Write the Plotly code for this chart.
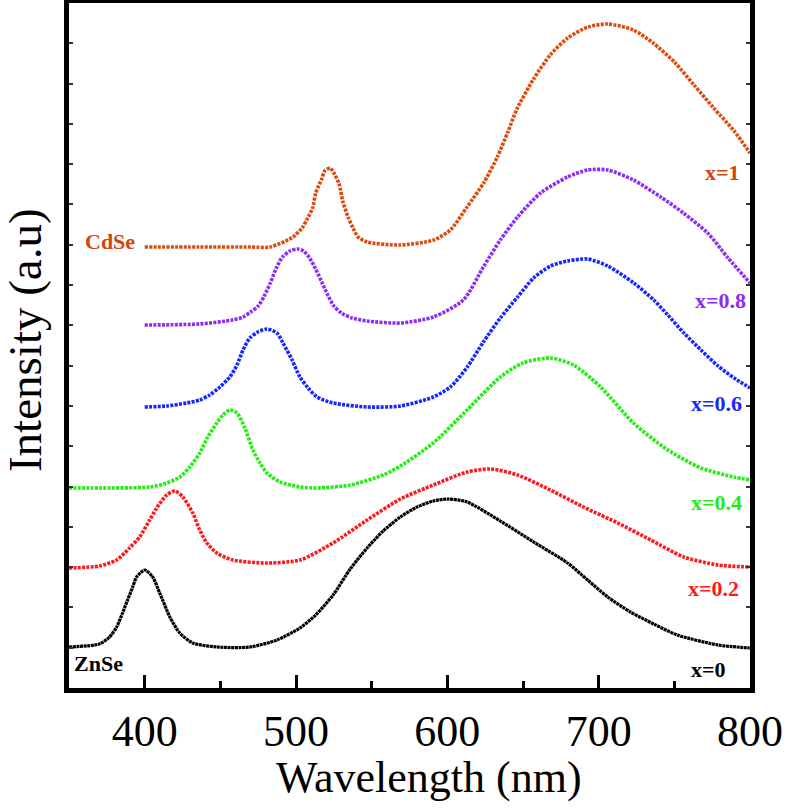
import plotly.graph_objects as go

# wavelength (nm) / intensity (a.u., stacked offsets as drawn)
wl_cdse = [400, 436, 470, 483, 498, 504, 507, 511, 513, 517, 519, 522.5, 525, 528.5, 531, 534.4, 537.7, 541, 547,
           569, 591, 602, 613, 624, 633, 640, 646, 657, 668, 679.5, 693, 706, 723, 736, 750, 763, 776, 789.5, 800]
in_cdse = [441, 441, 441, 441, 451, 460, 468, 480, 495, 509, 517, 520, 515, 504, 486, 471, 460, 451, 446,
           443, 448, 458, 481, 505, 531, 556, 579, 609, 633, 650, 661, 664, 658, 645, 626, 603, 580, 557, 535]

wl_x08 = [400, 436, 458, 465, 470, 475, 479, 483, 487, 491, 496, 501, 505, 509, 513, 517, 521, 525, 530, 537, 547,
          569, 590.7, 610.6, 623.8, 635, 646.4, 661.6, 679.5, 692.7, 706, 723, 741, 756, 772, 785.5, 800]
in_x08 = [363, 364, 368, 371, 376, 382, 392, 405, 420, 431, 437, 439, 437, 430, 419, 406, 393, 382, 375, 370, 367,
          365, 371, 388, 421, 448, 471, 495, 511, 518, 518, 508, 491, 475, 455, 430, 405]

wl_x06 = [400, 414.6, 427.8, 436.4, 443, 449.7, 456.3, 461, 465, 469.5, 474.8, 480.8, 487.4, 491.4, 497.4, 502.6,
          508, 513.9, 524.5, 547, 569, 590.7, 602, 613.2, 623.8, 635, 646.4, 657, 668.2, 679.5, 692.7, 706,
          723.2, 736.4, 745.7, 756.3, 767.6, 778.9, 789.5, 800]
in_x06 = [281, 282, 285, 288, 293, 301, 311, 323, 338, 350, 356, 359, 355, 345, 328, 311,
          300, 291, 285, 281, 282, 291, 301, 321, 346, 370, 391, 410, 422, 427, 429, 422,
          405, 388, 373, 355, 338, 322, 310, 300]

wl_x04 = [350, 370, 403.3, 414.6, 423.2, 429.8, 436.4, 441.7, 447.7, 451.7, 456.3, 461, 466.2, 471.5, 476.2,
          480.8, 489.4, 502.6, 513.9, 535.8, 557.6, 569, 590.7, 613, 635, 650, 668, 683.4, 701.3, 723,
          745.7, 767.6, 789.5, 800]
in_x04 = [200, 200, 201, 205, 211, 221, 235, 251, 265, 273, 278, 275, 260, 238, 225,
          215, 206, 201, 200, 203, 213, 222, 245, 278, 311, 325, 330, 323, 301, 265,
          238, 220, 211, 208]

wl_x02 = [350, 370, 381.5, 390, 396.7, 403.3, 407.9, 414.6, 419.9, 425.2, 431.8, 436.4, 441.1, 447.7, 458.3,
          480.8, 502.6, 524.5, 547, 569, 590.7, 613, 628.5, 646.4, 668, 690, 712.6, 734.4, 756.3, 778.9, 800]
in_x02 = [120, 122, 128, 140, 151, 168, 180, 193, 197, 191, 175, 158, 145, 135, 128,
          125, 128, 145, 168, 189, 203, 216, 219, 213, 198, 181, 165, 148, 131, 123, 121]

wl_znse = [350, 370, 376.8, 381.5, 385.4, 388.7, 392.1, 394.7, 400, 405.3, 409.9, 411.9, 416.6, 423.2, 431.8,
           447.7, 469.5, 487.4, 502.6, 513, 524.5, 535.8, 547, 557.6, 569, 580, 590.7, 600.7, 613, 635, 657,
           679.5, 692.7, 706, 721, 736.4, 752, 778.9, 800]
in_znse = [41, 44, 51, 61, 75, 88, 101, 111, 118, 111, 95, 88, 71, 55, 45,
           41, 41, 48, 60, 73, 93, 119, 140, 157, 171, 181, 187, 189, 186, 167, 146,
           125, 108, 91, 76, 64, 53, 43, 40]

x_ticks = [400, 500, 600, 700, 800]
series = [
    ("x=0", wl_znse, in_znse, "#000000", "3px,0.6px", 3.2),
    ("x=0.2", wl_x02, in_x02, "#FF1A1A", "3px,1.3px", 3.6),
    ("x=0.4", wl_x04, in_x04, "#22EE11", "3px,1.3px", 3.6),
    ("x=0.6", wl_x06, in_x06, "#1428FF", "3px,1.3px", 3.6),
    ("x=0.8", wl_x08, in_x08, "#8C2CF5", "3px,1.3px", 3.6),
    ("x=1", wl_cdse, in_cdse, "#DC4A0C", "3px,1.3px", 3.6),
]

fig = go.Figure()
for name, xs, ys, col, dash, w in series:
    fig.add_trace(go.Scatter(x=xs, y=ys, mode="lines", name=name,
                             line=dict(color=col, width=w, dash=dash, shape="spline", smoothing=0.7)))

serif = "Liberation Serif"
labels = [
    ("CdSe", 359, 447, "left", "#D2450E"),
    ("x=1", 794.7, 516, "right", "#D2450E"),
    ("x=0.8", 798.5, 388, "right", "#8C2CF5"),
    ("x=0.6", 796, 285, "right", "#1428FF"),
    ("x=0.4", 796, 186, "right", "#22EE11"),
    ("x=0.2", 794, 100, "right", "#FF1A1A"),
    ("x=0", 785.4, 19, "right", "#000000"),
    ("ZnSe", 351.7, 25, "left", "#000000"),
]
for txt, xx, yy, anc, col in labels:
    fig.add_annotation(x=xx, y=yy, xref="x", yref="y", text="<b>%s</b>" % txt, showarrow=False,
                       xanchor=anc, yanchor="middle",
                       font=dict(family=serif, size=22, color=col))

# axis titles
fig.add_annotation(x=0.5286, y=-0.131, xref="paper", yref="paper", text="Wavelength (nm)", showarrow=False,
                   xanchor="center", yanchor="middle", font=dict(family=serif, size=44, color="black"))
fig.add_annotation(x=-0.0646, y=0.508, xref="paper", yref="paper", text="Intensity (a.u)", showarrow=False,
                   textangle=-90, xanchor="center", yanchor="middle",
                   font=dict(family=serif, size=47, color="black"))

fig.update_layout(
    width=787, height=811,
    margin=dict(l=69, r=37, t=3, b=123, autoexpand=False),
    paper_bgcolor="white", plot_bgcolor="white",
    showlegend=False,
    font=dict(family=serif, color="black"),
)
fig.update_xaxes(range=[350, 800], tickvals=x_ticks, ticktext=[str(v) for v in x_ticks],
                 ticks="inside", ticklen=13, tickwidth=3, tickcolor="black",
                 minor=dict(ticks="inside", ticklen=7, tickwidth=3, tickcolor="black", dtick=50, tick0=350),
                 showline=True, linewidth=4.5, linecolor="black", mirror=True,
                 showgrid=False, zeroline=False, automargin=False,
                 tickfont=dict(family=serif, size=44, color="black"))
fig.update_yaxes(range=[0, 685], tick0=0, dtick=685 / 17, showticklabels=False,
                 ticks="inside", ticklen=4, tickwidth=1.5, tickcolor="#333333",
                 showline=True, linewidth=4.5, linecolor="black", mirror="ticks",
                 showgrid=False, zeroline=False, automargin=False)

fig.write_html("out.html", config={"displayModeBar": False},
               post_script="document.body.style.margin='0px';")
